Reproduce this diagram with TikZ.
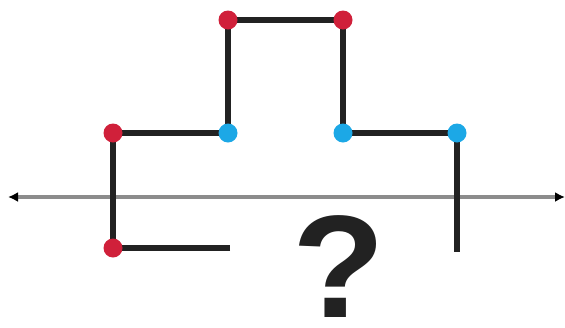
\documentclass[tikz,border=0pt]{standalone}
\usepackage{fontspec}
\setmainfont{Liberation Sans}
\usetikzlibrary{arrows.meta}
\definecolor{dotred}{HTML}{D0203A}
\definecolor{dotblue}{HTML}{1CA8E6}
\definecolor{axisgray}{HTML}{8C8C8C}
\definecolor{linek}{HTML}{222222}
\begin{document}
\begin{tikzpicture}[x=1pt,y=-1pt,
  reddot/.style={circle,fill=dotred,inner sep=0pt,minimum size=19pt},
  bluedot/.style={circle,fill=dotblue,inner sep=0pt,minimum size=19pt},
  pathline/.style={draw=linek,line width=6pt},
  axisline/.style={draw=axisgray,line width=3.5pt,{Latex[black,length=10pt,width=10pt]}-{Latex[black,length=10pt,width=10pt]}}]
\useasboundingbox (0,0) rectangle (565,327);
% axis
\coordinate (axl) at (8,197);
\coordinate (axr) at (565,197);
\draw[axisline] (axl) -- (axr);
% path points
\coordinate (s) at (230,248);
\coordinate (p1) at (113,248);
\coordinate (p2) at (113,133);
\coordinate (p3) at (228,133);
\coordinate (p4) at (228,20);
\coordinate (p5) at (343,20);
\coordinate (p6) at (343,133);
\coordinate (p7) at (457,133);
\coordinate (e) at (457,252);
\draw[pathline] (s) -- (p1) -- (p2) -- (p3) -- (p4) -- (p5) -- (p6) -- (p7) -- (e);
\node[reddot] (d1) at (p1) {};
\node[reddot] (d2) at (p2) {};
\node[bluedot] (d3) at (p3) {};
\node[reddot] (d4) at (p4) {};
\node[reddot] (d5) at (p5) {};
\node[bluedot] (d6) at (p6) {};
\node[bluedot] (d7) at (p7) {};
% question mark
\node[text=linek,inner sep=0pt,anchor=base,xscale=1.04] (q) at (339,317) {\fontsize{146}{146}\selectfont\bfseries ?};
\end{tikzpicture}
\end{document}
